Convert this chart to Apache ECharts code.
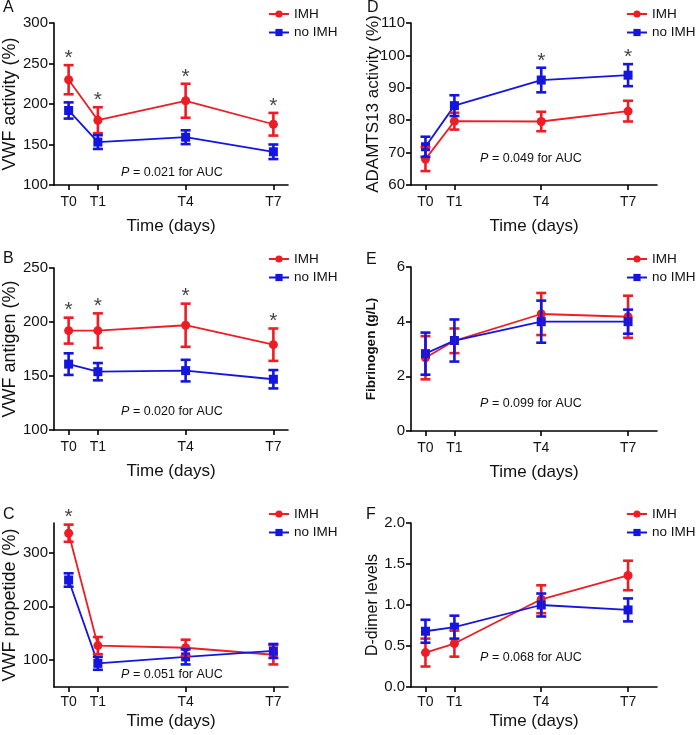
<!DOCTYPE html>
<html>
<head>
<meta charset="utf-8">
<script src="https://cdn.jsdelivr.net/npm/echarts@6/dist/echarts.min.js"></script>
<style>html,body{margin:0;padding:0;background:#fff}#c{width:700px;height:735px}</style>
</head>
<body>
<div id="c"></div>
<script>
// ---------- data ----------
const days = [0, 1, 4, 7];
const timeLabels = ['T0', 'T1', 'T4', 'T7'];

// A: VWF activity (%)
const vwfActImh = [230, 180, 204, 175];
const vwfActImhErr = [18, 16, 21, 14];
const vwfActNo = [192, 153, 159, 141];
const vwfActNoErr = [10, 8.5, 8.5, 9];
const vwfActStars = [0, 1, 4, 7];
const vwfActTicks = [100, 150, 200, 250, 300];

// B: VWF antigen (%)
const vwfAgImh = [192, 192, 197, 179];
const vwfAgImhErr = [12, 16, 20, 15];
const vwfAgNo = [161, 154, 155, 147];
const vwfAgNoErr = [10, 8, 10, 8.5];
const vwfAgStars = [0, 1, 4, 7];
const vwfAgTicks = [100, 150, 200, 250];

// C: VWF propeptide (%)
const vwfPpImh = [336, 127, 123, 110];
const vwfPpImhErr = [16, 16, 15, 18];
const vwfPpNo = [249, 94, 106, 117];
const vwfPpNoErr = [12.5, 12, 14, 13];
const vwfPpStars = [0];
const vwfPpTicks = [100, 200, 300];

// D: ADAMTS13 activity (%)
const adamImh = [68, 79.7, 79.6, 82.8];
const adamImhErr = [3.7, 2.6, 3, 3.2];
const adamNo = [71.8, 84.5, 92.4, 93.9];
const adamNoErr = [3.1, 3.2, 3.8, 3.4];
const adamStars = [4, 7];
const adamTicks = [60, 70, 80, 90, 100, 110];

// E: Fibrinogen (g/L)
const fibImh = [2.68, 3.3, 4.28, 4.18];
const fibImhErr = [0.79, 0.45, 0.77, 0.77];
const fibNo = [2.83, 3.31, 4.0, 4.0];
const fibNoErr = [0.77, 0.77, 0.77, 0.44];
const fibStars = [];
const fibTicks = [0, 2, 4, 6];

// F: D-dimer levels
const ddImh = [0.42, 0.53, 1.07, 1.36];
const ddImhErr = [0.17, 0.16, 0.17, 0.18];
const ddNo = [0.68, 0.73, 1.0, 0.94];
const ddNoErr = [0.14, 0.14, 0.14, 0.14];
const ddStars = [];
const ddTicks = [0, 0.5, 1.0, 1.5, 2.0];

const pTexts = ['0.021', '0.020', '0.051', '0.049', '0.099', '0.068'];
const letters = ['A', 'B', 'C', 'D', 'E', 'F'];
const yNames = ['VWF activity (%)', 'VWF antigen (%)', 'VWF propetide (%)', 'ADAMTS13 activity (%)', 'Fibrinogen (g/L)', 'D-dimer levels'];

// ---------- layout / style ----------
const RED = '#ee1c24';
const BLUE = '#1515e0';
const FONT = '"Liberation Sans", Arial, sans-serif';
const TXT = '#111';

const panels = [
  {imh: vwfActImh, imhE: vwfActImhErr, no: vwfActNo, noE: vwfActNoErr, stars: vwfActStars, ticks: vwfActTicks,
   grid: {left: 54, top: 23, width: 234, height: 162}, ymin: 100, ymax: 300, xmax: 7.5, nameGap: 35, nameSize: 18, bold: false,
   xGap: 33, xMargin: 10, legend: [268, 7], p: [172, 173], letter: [3, 8], fmt: v => String(v)},
  {imh: vwfAgImh, imhE: vwfAgImhErr, no: vwfAgNo, noE: vwfAgNoErr, stars: vwfAgStars, ticks: vwfAgTicks,
   grid: {left: 54, top: 268, width: 234, height: 162}, ymin: 100, ymax: 250, xmax: 7.5, nameGap: 35, nameSize: 18, bold: false,
   xGap: 33, xMargin: 10, legend: [268, 252], p: [172, 412], letter: [3, 259], fmt: v => String(v)},
  {imh: vwfPpImh, imhE: vwfPpImhErr, no: vwfPpNo, noE: vwfPpNoErr, stars: vwfPpStars, ticks: vwfPpTicks,
   grid: {left: 54, top: 523, width: 234, height: 164}, ymin: 50, ymax: 355, xmax: 7.5, nameGap: 35, nameSize: 18, bold: false,
   xGap: 26, xMargin: 8, legend: [268, 507], p: [172, 675], letter: [3, 515], fmt: v => String(v)},
  {imh: adamImh, imhE: adamImhErr, no: adamNo, noE: adamNoErr, stars: adamStars, ticks: adamTicks,
   grid: {left: 411, top: 23, width: 246, height: 162}, ymin: 60, ymax: 110, xmax: 8, nameGap: 29, nameSize: 17, bold: false,
   xGap: 33, xMargin: 10, legend: [626, 7], p: [531, 159], letter: [367, 8], fmt: v => String(v)},
  {imh: fibImh, imhE: fibImhErr, no: fibNo, noE: fibNoErr, stars: fibStars, ticks: fibTicks,
   grid: {left: 411, top: 267, width: 246, height: 164}, ymin: 0, ymax: 6, xmax: 8, nameGap: 33, nameSize: 13.5, bold: true,
   xGap: 33, xMargin: 10, legend: [626, 252], p: [531, 404], letter: [366, 260], fmt: v => String(v)},
  {imh: ddImh, imhE: ddImhErr, no: ddNo, noE: ddNoErr, stars: ddStars, ticks: ddTicks,
   grid: {left: 411, top: 523, width: 246, height: 164}, ymin: 0, ymax: 2, xmax: 8, nameGap: 30, nameSize: 16, bold: false,
   xGap: 26, xMargin: 8, legend: [626, 507], p: [531, 658], letter: [366, 515], fmt: v => v.toFixed(1)}
];

function errRender(color) {
  return function (params, api) {
    const x = api.value(0), lo = api.value(1), hi = api.value(2);
    const a = api.coord([x, hi]), b = api.coord([x, lo]);
    const w = 5;
    const st = {stroke: color, lineWidth: 2.6};
    return {type: 'group', children: [
      {type: 'line', shape: {x1: a[0], y1: a[1], x2: b[0], y2: b[1]}, style: st},
      {type: 'line', shape: {x1: a[0] - w, y1: a[1], x2: a[0] + w, y2: a[1]}, style: st},
      {type: 'line', shape: {x1: b[0] - w, y1: b[1], x2: b[0] + w, y2: b[1]}, style: st}
    ]};
  };
}

const option = {
  animation: false,
  backgroundColor: '#fff',
  textStyle: {fontFamily: FONT, color: TXT},
  grid: [], xAxis: [], yAxis: [], series: [], legend: [], graphic: []
};

panels.forEach((P, i) => {
  option.grid.push(Object.assign({containLabel: false}, P.grid));
  const axisLine = {show: true, onZero: false, lineStyle: {color: '#000', width: 1.6}};
  const axisTick = {show: true, length: 5, lineStyle: {color: '#000', width: 1.6}};
  option.xAxis.push({
    type: 'value', gridIndex: i, min: -0.5, max: P.xmax,
    axisLine: axisLine,
    axisTick: Object.assign({customValues: days}, axisTick),
    axisLabel: {customValues: days, formatter: v => timeLabels[days.indexOf(v)], fontSize: 14, color: TXT, margin: P.xMargin, fontFamily: FONT},
    splitLine: {show: false},
    name: 'Time (days)', nameLocation: 'middle', nameGap: P.xGap, nameMoveOverlap: false,
    nameTextStyle: {fontSize: 17, color: TXT, fontFamily: FONT}
  });
  option.yAxis.push({
    type: 'value', gridIndex: i, min: P.ymin, max: P.ymax,
    axisLine: axisLine,
    axisTick: Object.assign({customValues: P.ticks}, axisTick),
    axisLabel: {customValues: P.ticks, formatter: P.fmt, fontSize: 15, color: TXT, margin: 6, fontFamily: FONT},
    splitLine: {show: false},
    name: yNames[i], nameLocation: 'middle', nameGap: P.nameGap, nameMoveOverlap: false,
    nameTextStyle: {fontSize: P.nameSize, color: TXT, fontFamily: FONT, fontWeight: P.bold ? 'bold' : 'normal'}
  });
  const groups = [
    {name: 'IMH', vals: P.imh, errs: P.imhE, color: RED, symbol: 'circle', size: 9},
    {name: 'no IMH', vals: P.no, errs: P.noE, color: BLUE, symbol: 'rect', size: 9}
  ];
  groups.forEach(g => {
    option.series.push({
      type: 'line', name: g.name, xAxisIndex: i, yAxisIndex: i,
      data: days.map((d, k) => [d, g.vals[k]]),
      symbol: g.symbol, symbolSize: g.size, showSymbol: true,
      lineStyle: {color: g.color, width: 1.8}, itemStyle: {color: g.color},
      z: 3
    });
    option.series.push({
      type: 'custom', name: g.name + ' err', xAxisIndex: i, yAxisIndex: i,
      data: days.map((d, k) => [d, g.vals[k] - g.errs[k], g.vals[k] + g.errs[k]]),
      encode: {x: 0, y: [1, 2]},
      renderItem: errRender(g.color), z: 4, silent: true
    });
  });
  if (P.stars.length) {
    option.series.push({
      type: 'scatter', name: 'sig', xAxisIndex: i, yAxisIndex: i,
      symbolSize: 0, silent: true, z: 5,
      data: P.stars.map(d => {
        const k = days.indexOf(d);
        return [d, Math.max(P.imh[k] + P.imhE[k], P.no[k] + P.noE[k])];
      }),
      label: {show: true, formatter: '*', position: 'inside', offset: [0, -7], fontSize: 21, color: TXT, fontFamily: FONT}
    });
  }
  option.legend.push({
    data: ['IMH', 'no IMH'], orient: 'vertical', left: P.legend[0], top: P.legend[1],
    itemWidth: 20, itemHeight: 9, itemGap: 4.5, padding: 0,
    textStyle: {fontSize: 13.5, color: TXT, fontFamily: FONT, lineHeight: 14},
    selectedMode: false
  });
  option.graphic.push({
    type: 'text', x: P.p[0], y: P.p[1],
    style: {
      text: '{i|P} = ' + pTexts[i] + ' for AUC', align: 'center', verticalAlign: 'middle',
      font: '12.5px ' + FONT, fill: TXT,
      rich: {i: {fontStyle: 'italic', fontSize: 12.5, fontFamily: FONT, fill: TXT}}
    }
  });
  option.graphic.push({
    type: 'text', x: P.letter[0], y: P.letter[1],
    style: {text: letters[i], font: '16px ' + FONT, fill: TXT, align: 'left', verticalAlign: 'middle'}
  });
});

const chart = echarts.init(document.getElementById('c'), null, {renderer: 'canvas'});
chart.setOption(option);
</script>
</body>
</html>
